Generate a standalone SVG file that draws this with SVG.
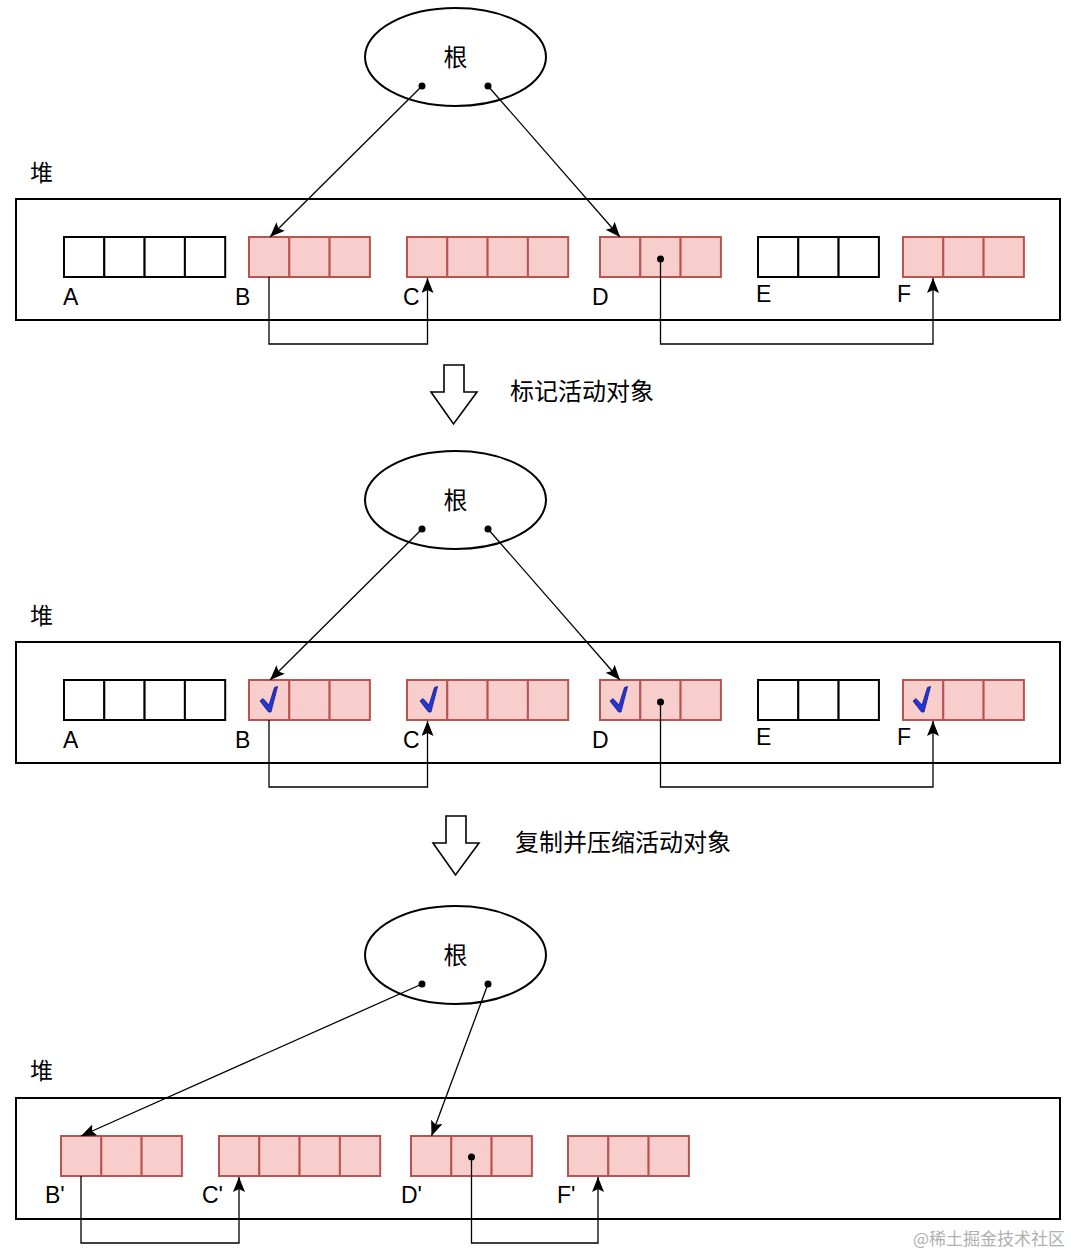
<svg xmlns="http://www.w3.org/2000/svg" width="1080" height="1255" viewBox="0 0 1080 1255">
<style>
.bg{fill:#ffffff}
.heap{fill:none;stroke:#000;stroke-width:2}
.root{fill:#fff;stroke:#000;stroke-width:2}
.w{fill:#fff;stroke:#000;stroke-width:2}
.p{fill:#f8cecc;stroke:#b85450;stroke-width:2}
.c{fill:none;stroke:#000;stroke-width:1.3}
.lbl{font-family:"Liberation Sans",Arial,sans-serif;font-size:23px;fill:#000}
.cjk{font-family:"Noto Sans CJK SC","Liberation Sans",sans-serif;font-size:23px;fill:#000}
.cap{font-family:"Noto Sans CJK SC","Liberation Sans",sans-serif;font-size:24px;fill:#000}
.wm{font-family:"Noto Sans CJK SC","Liberation Serif",serif;font-size:17px;fill:#b0b0b0}
.big{fill:#fff;stroke:#000;stroke-width:1.6;stroke-linejoin:miter}
.chk{fill:#2436d4;stroke:#0e1a80;stroke-width:0.8;stroke-linejoin:round}
.dot{fill:#000}
</style>
<defs>
<marker id="ah" markerUnits="userSpaceOnUse" markerWidth="17" markerHeight="14" refX="15" refY="6" orient="auto">
<path d="M0,0 L15,6 L0,12 L3,6 Z" fill="#000"/>
</marker>
<path id="tick" d="M11,21 L14,18.5 L20,25 L25.5,7.5 L28.5,6.5 L22,32 L19.5,32 Z"/>
</defs>
<rect class="bg" x="0" y="0" width="1080" height="1255"/>

<!-- ===== Section 1 ===== -->
<g id="s1-root"><ellipse class="root" cx="455.5" cy="57" rx="90.5" ry="49"/><text class="cap" x="455.5" y="66" text-anchor="middle">根</text></g>
<g id="s1-heap"><text class="cjk" x="30" y="181">堆</text><rect class="heap" x="16" y="199" width="1044" height="121"/></g>
<g id="s1-A"><rect class="w" x="64" y="237" width="40.3" height="40"/><rect class="w" x="104.3" y="237" width="40.3" height="40"/><rect class="w" x="144.6" y="237" width="40.3" height="40"/><rect class="w" x="184.9" y="237" width="40.3" height="40"/><text class="lbl" x="63" y="305">A</text></g>
<g id="s1-B"><rect class="p" x="249" y="237" width="40.3" height="40"/><rect class="p" x="289.3" y="237" width="40.3" height="40"/><rect class="p" x="329.6" y="237" width="40.3" height="40"/><text class="lbl" x="235" y="305">B</text></g>
<g id="s1-C"><rect class="p" x="407" y="237" width="40.3" height="40"/><rect class="p" x="447.3" y="237" width="40.3" height="40"/><rect class="p" x="487.6" y="237" width="40.3" height="40"/><rect class="p" x="527.9" y="237" width="40.3" height="40"/><text class="lbl" x="403" y="305">C</text></g>
<g id="s1-D"><rect class="p" x="600" y="237" width="40.3" height="40"/><rect class="p" x="640.3" y="237" width="40.3" height="40"/><rect class="p" x="680.6" y="237" width="40.3" height="40"/><text class="lbl" x="592" y="305">D</text></g>
<g id="s1-E"><rect class="w" x="758" y="237" width="40.3" height="40"/><rect class="w" x="798.3" y="237" width="40.3" height="40"/><rect class="w" x="838.6" y="237" width="40.3" height="40"/><text class="lbl" x="756" y="302">E</text></g>
<g id="s1-F"><rect class="p" x="903" y="237" width="40.3" height="40"/><rect class="p" x="943.3" y="237" width="40.3" height="40"/><rect class="p" x="983.6" y="237" width="40.3" height="40"/><text class="lbl" x="897" y="302">F</text></g>
<g id="s1-connectors">
<circle class="dot" cx="422" cy="86" r="3.5"/><circle class="dot" cx="488" cy="86" r="3.5"/><circle class="dot" cx="660.5" cy="259" r="3.5"/>
<path class="c" d="M422,86 L270,237" marker-end="url(#ah)"/>
<path class="c" d="M488,86 L620,237" marker-end="url(#ah)"/>
<path class="c" d="M269,277 V344 H427.5 V278" marker-end="url(#ah)"/>
<path class="c" d="M660.5,259 V344 H933 V278" marker-end="url(#ah)"/>
</g>

<g id="step1"><path class="big" d="M444,365 H464 V392 H477 L453.5,424 L431,392 H444 Z"/><text class="cap" x="510" y="400">标记活动对象</text></g>

<!-- ===== Section 2 ===== -->
<g id="s2-root"><ellipse class="root" cx="455.5" cy="500" rx="90.5" ry="49"/><text class="cap" x="455.5" y="509" text-anchor="middle">根</text></g>
<g id="s2-heap"><text class="cjk" x="30" y="624">堆</text><rect class="heap" x="16" y="642" width="1044" height="121"/></g>
<g id="s2-A"><rect class="w" x="64" y="680" width="40.3" height="40"/><rect class="w" x="104.3" y="680" width="40.3" height="40"/><rect class="w" x="144.6" y="680" width="40.3" height="40"/><rect class="w" x="184.9" y="680" width="40.3" height="40"/><text class="lbl" x="63" y="748">A</text></g>
<g id="s2-B"><rect class="p" x="249" y="680" width="40.3" height="40"/><rect class="p" x="289.3" y="680" width="40.3" height="40"/><rect class="p" x="329.6" y="680" width="40.3" height="40"/><use href="#tick" class="chk" transform="translate(249,680)"/><text class="lbl" x="235" y="748">B</text></g>
<g id="s2-C"><rect class="p" x="407" y="680" width="40.3" height="40"/><rect class="p" x="447.3" y="680" width="40.3" height="40"/><rect class="p" x="487.6" y="680" width="40.3" height="40"/><rect class="p" x="527.9" y="680" width="40.3" height="40"/><use href="#tick" class="chk" transform="translate(409,680)"/><text class="lbl" x="403" y="748">C</text></g>
<g id="s2-D"><rect class="p" x="600" y="680" width="40.3" height="40"/><rect class="p" x="640.3" y="680" width="40.3" height="40"/><rect class="p" x="680.6" y="680" width="40.3" height="40"/><use href="#tick" class="chk" transform="translate(599,680)"/><text class="lbl" x="592" y="748">D</text></g>
<g id="s2-E"><rect class="w" x="758" y="680" width="40.3" height="40"/><rect class="w" x="798.3" y="680" width="40.3" height="40"/><rect class="w" x="838.6" y="680" width="40.3" height="40"/><text class="lbl" x="756" y="745">E</text></g>
<g id="s2-F"><rect class="p" x="903" y="680" width="40.3" height="40"/><rect class="p" x="943.3" y="680" width="40.3" height="40"/><rect class="p" x="983.6" y="680" width="40.3" height="40"/><use href="#tick" class="chk" transform="translate(902,680)"/><text class="lbl" x="897" y="745">F</text></g>
<g id="s2-connectors">
<circle class="dot" cx="422" cy="529" r="3.5"/><circle class="dot" cx="488" cy="529" r="3.5"/><circle class="dot" cx="660.5" cy="702" r="3.5"/>
<path class="c" d="M422,529 L270,680" marker-end="url(#ah)"/>
<path class="c" d="M488,529 L620,680" marker-end="url(#ah)"/>
<path class="c" d="M269,720 V787 H427.5 V721" marker-end="url(#ah)"/>
<path class="c" d="M660.5,702 V787 H933 V721" marker-end="url(#ah)"/>
</g>

<g id="step2"><path class="big" d="M446,816 H466 V843 H479 L455.5,875 L433,843 H446 Z"/><text class="cap" x="515" y="851">复制并压缩活动对象</text></g>

<!-- ===== Section 3 ===== -->
<g id="s3-root"><ellipse class="root" cx="455.5" cy="955" rx="90.5" ry="49"/><text class="cap" x="455.5" y="964" text-anchor="middle">根</text></g>
<g id="s3-heap"><text class="cjk" x="30" y="1079">堆</text><rect class="heap" x="16" y="1098" width="1044" height="121"/></g>
<g id="s3-B"><rect class="p" x="61" y="1136" width="40.3" height="40"/><rect class="p" x="101.3" y="1136" width="40.3" height="40"/><rect class="p" x="141.6" y="1136" width="40.3" height="40"/><text class="lbl" x="45" y="1203">B'</text></g>
<g id="s3-C"><rect class="p" x="219" y="1136" width="40.3" height="40"/><rect class="p" x="259.3" y="1136" width="40.3" height="40"/><rect class="p" x="299.6" y="1136" width="40.3" height="40"/><rect class="p" x="339.9" y="1136" width="40.3" height="40"/><text class="lbl" x="202" y="1203">C'</text></g>
<g id="s3-D"><rect class="p" x="411" y="1136" width="40.3" height="40"/><rect class="p" x="451.3" y="1136" width="40.3" height="40"/><rect class="p" x="491.6" y="1136" width="40.3" height="40"/><text class="lbl" x="401" y="1203">D'</text></g>
<g id="s3-F"><rect class="p" x="568" y="1136" width="40.3" height="40"/><rect class="p" x="608.3" y="1136" width="40.3" height="40"/><rect class="p" x="648.6" y="1136" width="40.3" height="40"/><text class="lbl" x="557" y="1203">F'</text></g>
<g id="s3-connectors">
<circle class="dot" cx="422" cy="984" r="3.5"/><circle class="dot" cx="488" cy="984" r="3.5"/><circle class="dot" cx="471.5" cy="1157" r="3.5"/>
<path class="c" d="M422,984 L81,1136" marker-end="url(#ah)"/>
<path class="c" d="M488,984 L431.5,1136" marker-end="url(#ah)"/>
<path class="c" d="M81,1176 V1243 H239 V1177" marker-end="url(#ah)"/>
<path class="c" d="M471.5,1157 V1243 H598 V1177" marker-end="url(#ah)"/>
</g>

<text class="wm" x="913" y="1245">@稀土掘金技术社区</text>
</svg>
